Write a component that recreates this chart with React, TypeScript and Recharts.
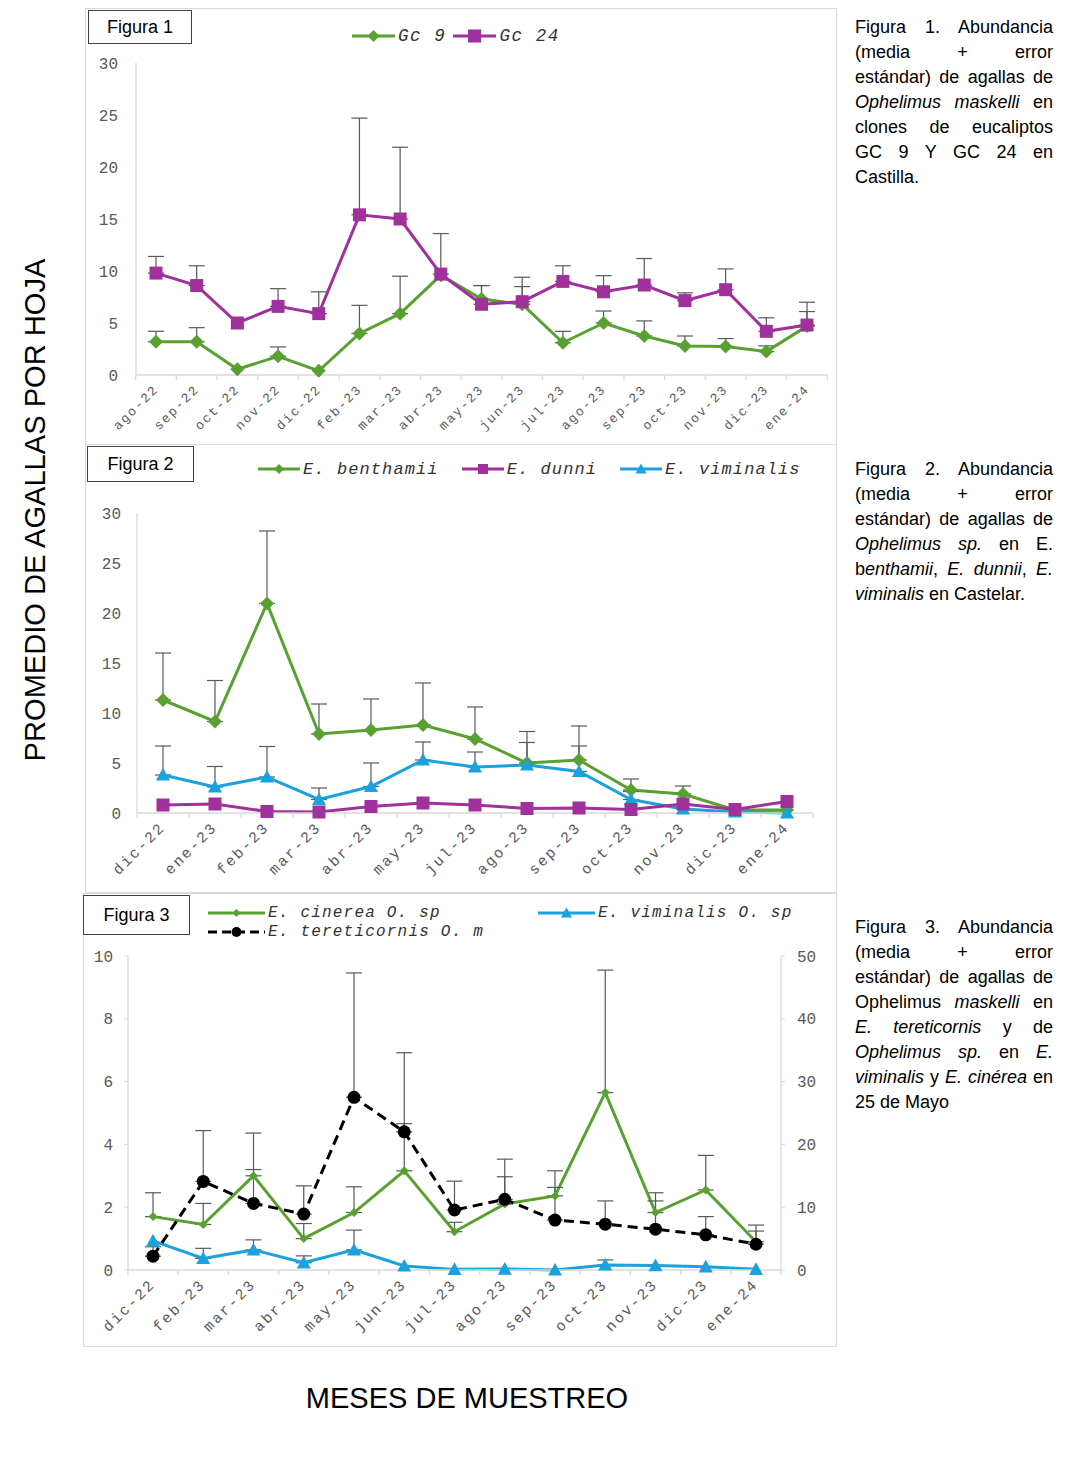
import React from "react";
import { ErrorBar, Legend, Line, LineChart, XAxis, YAxis } from "recharts";

// Figura 1 - Castilla
const fig1Months = ["ago-22", "sep-22", "oct-22", "nov-22", "dic-22", "feb-23", "mar-23", "abr-23", "may-23", "jun-23", "jul-23", "ago-23", "sep-23", "oct-23", "nov-23", "dic-23", "ene-24"];
const gc9Mean = [3.2, 3.2, 0.55, 1.8, 0.4, 4.0, 5.9, 9.6, 7.3, 6.8, 3.1, 5.0, 3.75, 2.8, 2.75, 2.25, 4.7];
const gc9Se = [1.0, 1.35, null, 0.9, null, 2.7, 3.6, null, 1.3, 1.7, 1.1, 1.15, 1.45, 0.95, 0.75, 0.55, 1.4];
const gc24Mean = [9.8, 8.6, 5.0, 6.6, 5.9, 15.4, 15.0, 9.7, 6.8, 7.05, 9.0, 8.0, 8.65, 7.15, 8.2, 4.2, 4.8];
const gc24Se = [1.6, 1.9, null, 1.7, 2.1, 9.3, 6.9, 3.9, 1.8, 2.35, 1.5, 1.55, 2.55, 0.75, 2.0, 1.3, 2.2];
const fig1Ticks = [0, 5, 10, 15, 20, 25, 30];

// Figura 2 - Castelar
const fig2Months = ["dic-22", "ene-23", "feb-23", "mar-23", "abr-23", "may-23", "jul-23", "ago-23", "sep-23", "oct-23", "nov-23", "dic-23", "ene-24"];
const benthamiiMean = [11.3, 9.15, 20.95, 7.9, 8.3, 8.8, 7.4, 5.0, 5.3, 2.3, 1.9, 0.3, 0.3];
const benthamiiSe = [4.7, 4.1, 7.25, 3.0, 3.1, 4.2, 3.2, 3.15, 3.4, 1.1, 0.8, null, null];
const dunniMean = [0.8, 0.9, 0.15, 0.1, 0.65, 1.0, 0.8, 0.45, 0.5, 0.35, 0.9, 0.35, 1.15];
const viminalisMean = [3.8, 2.6, 3.6, 1.35, 2.65, 5.3, 4.6, 4.8, 4.15, 1.35, 0.4, 0.1, 0.0];
const viminalisSe = [2.9, 2.05, 3.05, 1.15, 2.35, 1.8, 1.5, 2.25, 2.55, 0.8, null, null, null];
const fig2Ticks = [0, 5, 10, 15, 20, 25, 30];

// Figura 3 - 25 de Mayo
const fig3Months = ["dic-22", "feb-23", "mar-23", "abr-23", "may-23", "jun-23", "jul-23", "ago-23", "sep-23", "oct-23", "nov-23", "dic-23", "ene-24"];
const cinereaMean = [1.7, 1.45, 3.0, 1.0, 1.83, 3.16, 1.22, 2.1, 2.36, 5.65, 1.83, 2.55, 0.9];
const cinereaSe = [0.76, 0.67, 1.36, 0.48, 0.82, 1.5, 0.3, 0.87, 0.8, 3.9, 0.63, 1.1, 0.53];
const tereticornisMean = [2.2, 14.1, 10.6, 8.9, 27.5, 22.0, 9.55, 11.25, 7.95, 7.3, 6.5, 5.6, 4.1];
const tereticornisSe = [1.5, 8.1, 5.4, 4.5, 19.8, 12.6, 4.6, 6.4, 5.2, 3.7, 4.5, 2.9, 2.1];
const viminalisOspMean = [0.93, 0.37, 0.64, 0.23, 0.64, 0.13, 0.02, 0.03, 0.0, 0.16, 0.14, 0.1, 0.02];
const viminalisOspSe = [null, 0.32, 0.32, 0.22, 0.63, null, null, null, null, 0.16, null, null, null];
const fig3LeftTicks = [0, 2, 4, 6, 8, 10];
const fig3RightTicks = [0, 10, 20, 30, 40, 50];

const GREEN = "#58a130";
const PURPLE = "#a0309b";
const BLUE = "#1ba1db";
const BLACK = "#000000";
const AXIS = "#d9d9d9";
const ERR = "#595959";
const TICK = "#595959";
const MONO = "'Liberation Mono', 'DejaVu Sans Mono', monospace";
const SANS = "'Liberation Sans', Arial, sans-serif";

type Shape = "diamond" | "square" | "triangle" | "circle";
type SeriesStyle = { color: string; shape: Shape; size: number; dash?: string };

const fig1Data = fig1Months.map((month, i) => ({
  month,
  gc9: gc9Mean[i],
  gc9Err: gc9Se[i] == null ? null : [0, gc9Se[i]],
  gc24: gc24Mean[i],
  gc24Err: gc24Se[i] == null ? null : [0, gc24Se[i]],
}));

const fig2Data = fig2Months.map((month, i) => ({
  month,
  benthamii: benthamiiMean[i],
  benthamiiErr: benthamiiSe[i] == null ? null : [0, benthamiiSe[i]],
  dunni: dunniMean[i],
  viminalis: viminalisMean[i],
  viminalisErr: viminalisSe[i] == null ? null : [0, viminalisSe[i]],
}));

const fig3Data = fig3Months.map((month, i) => ({
  month,
  cinerea: cinereaMean[i],
  cinereaErr: [0, cinereaSe[i]],
  tereticornis: tereticornisMean[i],
  tereticornisErr: [0, tereticornisSe[i]],
  vimOsp: viminalisOspMean[i],
  vimOspErr: viminalisOspSe[i] == null ? null : [0, viminalisOspSe[i]],
}));

function marker(shape: Shape, cx: number, cy: number, s: number, color: string) {
  if (shape === "diamond")
    return <path d={`M${cx},${cy - s}L${cx + s},${cy}L${cx},${cy + s}L${cx - s},${cy}Z`} fill={color} />;
  if (shape === "square") return <rect x={cx - s} y={cy - s} width={2 * s} height={2 * s} fill={color} />;
  if (shape === "triangle")
    return <path d={`M${cx},${cy - s}L${cx + s},${cy + s * 0.8}L${cx - s},${cy + s * 0.8}Z`} fill={color} />;
  return <circle cx={cx} cy={cy} r={s} fill={color} />;
}

function makeDot(st: SeriesStyle) {
  return (props: any) => {
    const { cx, cy, index } = props;
    if (cx == null || cy == null) return <g key={`n-${index}`} />;
    return <g key={`m-${index}`}>{marker(st.shape, cx, cy, st.size, st.color)}</g>;
  };
}

function monthTick(step: number, count: number, fontSize: number, spacing: number) {
  return (props: any) => {
    const { x, y, payload, index } = props;
    const tx = x + 3;
    const ty = y + 15;
    return (
      <g>
        <line x1={x - step / 2} x2={x - step / 2} y1={y} y2={y + 5} stroke={AXIS} strokeWidth={1.3} />
        {index === count - 1 && <line x1={x + step / 2} x2={x + step / 2} y1={y} y2={y + 5} stroke={AXIS} strokeWidth={1.3} />}
        <text
          x={tx}
          y={ty}
          transform={`rotate(-45 ${tx} ${ty})`}
          textAnchor="end"
          fontFamily={MONO}
          fontSize={fontSize}
          letterSpacing={spacing}
          fill={TICK}
        >
          {payload.value}
        </text>
      </g>
    );
  };
}

function legendContent(
  styles: Record<string, SeriesStyle>,
  order: string[],
  iconW: number,
  fontSize: number,
  spacing: number,
  gap: number,
  columns?: number
) {
  return (props: any) => {
    const items = [...(props.payload || [])].sort((a: any, b: any) => order.indexOf(a.value) - order.indexOf(b.value));
    return (
      <div
        style={{
          display: columns ? "grid" : "flex",
          gridTemplateColumns: columns ? `repeat(2, ${columns}px)` : undefined,
          rowGap: 1,
          alignItems: "center",
        }}
      >
        {items.map((it: any) => {
          const st = styles[it.value];
          return (
            <div key={it.value} style={{ display: "flex", alignItems: "center", marginRight: gap, height: 18 }}>
              <svg width={iconW} height={16} style={{ display: "block" }}>
                <line x1={0} x2={iconW} y1={8} y2={8} stroke={st.color} strokeWidth={3} strokeDasharray={st.dash} />
                {marker(st.shape, iconW / 2, 8, st.size, st.color)}
              </svg>
              <span
                style={{
                  fontFamily: MONO,
                  fontStyle: "italic",
                  fontSize,
                  letterSpacing: spacing,
                  color: "#333",
                  whiteSpace: "pre",
                  marginLeft: 3,
                }}
              >
                {it.value}
              </span>
            </div>
          );
        })}
      </div>
    );
  };
}

const yTick = { fill: TICK, fontFamily: MONO, fontSize: 16 };

function Panel({ left, top, width, height, children }: any) {
  return (
    <div style={{ position: "absolute", left, top, width, height, boxShadow: `inset 0 0 0 1px ${AXIS}` }}>{children}</div>
  );
}

function FigLabel({ left, top, width, height, text }: any) {
  return (
    <div
      style={{
        position: "absolute",
        left,
        top,
        width,
        height,
        boxSizing: "border-box",
        border: "1px solid #404040",
        background: "#fff",
        fontFamily: SANS,
        fontSize: 18,
        display: "flex",
        alignItems: "center",
        justifyContent: "center",
      }}
    >
      {text}
    </div>
  );
}

function Caption({ top, lines }: { top: number; lines: React.ReactNode[] }) {
  return (
    <div style={{ position: "absolute", left: 855, top, width: 198, fontFamily: SANS, fontSize: 18, lineHeight: "25px", color: "#000" }}>
      {lines.map((l, i) => (
        <div key={i} style={{ textAlign: "justify", textAlignLast: i === lines.length - 1 ? "left" : "justify" }}>
          {l}
        </div>
      ))}
    </div>
  );
}

const fig1Styles: Record<string, SeriesStyle> = {
  "Gc 9": { color: GREEN, shape: "diamond", size: 7 },
  "Gc 24": { color: PURPLE, shape: "square", size: 6.5 },
};
const fig1Legend: Record<string, SeriesStyle> = {
  "Gc 9": { color: GREEN, shape: "diamond", size: 6 },
  "Gc 24": { color: PURPLE, shape: "square", size: 6.5 },
};

const fig2Styles: Record<string, SeriesStyle> = {
  "E. benthamii": { color: GREEN, shape: "diamond", size: 7 },
  "E. dunni": { color: PURPLE, shape: "square", size: 6.5 },
  "E. viminalis": { color: BLUE, shape: "triangle", size: 7 },
};
const fig2Legend: Record<string, SeriesStyle> = {
  "E. benthamii": { color: GREEN, shape: "diamond", size: 5 },
  "E. dunni": { color: PURPLE, shape: "square", size: 5 },
  "E. viminalis": { color: BLUE, shape: "triangle", size: 5.5 },
};

const fig3Styles: Record<string, SeriesStyle> = {
  "E. cinerea O. sp": { color: GREEN, shape: "diamond", size: 4.5 },
  "E. viminalis O. sp": { color: BLUE, shape: "triangle", size: 7 },
  "E. tereticornis O. m": { color: BLACK, shape: "circle", size: 6.5, dash: "10 6" },
};
const fig3Legend: Record<string, SeriesStyle> = {
  "E. cinerea O. sp": { color: GREEN, shape: "diamond", size: 4 },
  "E. viminalis O. sp": { color: BLUE, shape: "triangle", size: 5.5 },
  "E. tereticornis O. m": { color: BLACK, shape: "circle", size: 5, dash: "9 5" },
};

function Figure1() {
  const names = Object.keys(fig1Styles);
  return (
    <LineChart width={752} height={437} data={fig1Data} margin={{ top: 55, right: 10, bottom: 0, left: 0 }}>
      <XAxis
        dataKey="month"
        height={70}
        interval={0}
        padding={{ left: 20, right: 20 }}
        tickSize={0}
        tickMargin={0}
        tickLine={false}
        axisLine={{ stroke: AXIS, strokeWidth: 1.3 }}
        tick={monthTick(691 / 17, fig1Months.length, 13, 1.8)}
      />
      <YAxis
        width={51}
        domain={[0, 30]}
        ticks={fig1Ticks}
        tickLine={false}
        tickSize={0}
        tickMargin={18}
        axisLine={{ stroke: AXIS, strokeWidth: 1.3 }}
        tick={yTick}
      />
      <Legend
        verticalAlign="middle"
        align="center"
        wrapperStyle={{ left: 267, top: 19, width: "auto" }}
        content={legendContent(fig1Legend, names, 43, 17.5, 1.6, 7)}
      />
      <Line dataKey="gc9" name={names[0]} stroke={GREEN} strokeWidth={3} dot={makeDot(fig1Styles[names[0]])} activeDot={false} isAnimationActive={false}>
        <ErrorBar dataKey="gc9Err" direction="y" width={8} stroke={ERR} strokeWidth={1.2} />
      </Line>
      <Line dataKey="gc24" name={names[1]} stroke={PURPLE} strokeWidth={3} dot={makeDot(fig1Styles[names[1]])} activeDot={false} isAnimationActive={false}>
        <ErrorBar dataKey="gc24Err" direction="y" width={8} stroke={ERR} strokeWidth={1.2} />
      </Line>
    </LineChart>
  );
}

function Figure2() {
  const names = Object.keys(fig2Styles);
  return (
    <LineChart width={752} height={449} data={fig2Data} margin={{ top: 69, right: 24, bottom: 0, left: 0 }}>
      <XAxis
        dataKey="month"
        height={80}
        interval={0}
        padding={{ left: 26, right: 26 }}
        tickSize={0}
        tickMargin={0}
        tickLine={false}
        axisLine={{ stroke: AXIS, strokeWidth: 1.3 }}
        tick={monthTick(676 / 13, fig2Months.length, 15, 2.2)}
      />
      <YAxis
        width={52}
        domain={[0, 30]}
        ticks={fig2Ticks}
        tickLine={false}
        tickSize={0}
        tickMargin={16}
        axisLine={{ stroke: AXIS, strokeWidth: 1.3 }}
        tick={yTick}
      />
      <Legend
        verticalAlign="middle"
        align="center"
        wrapperStyle={{ left: 173, top: 16, width: "auto" }}
        content={legendContent(fig2Legend, names, 42, 17, 1.1, 23)}
      />
      <Line dataKey="benthamii" name={names[0]} stroke={GREEN} strokeWidth={3} dot={makeDot(fig2Styles[names[0]])} activeDot={false} isAnimationActive={false}>
        <ErrorBar dataKey="benthamiiErr" direction="y" width={8} stroke={ERR} strokeWidth={1.2} />
      </Line>
      <Line dataKey="viminalis" name={names[2]} stroke={BLUE} strokeWidth={3} dot={makeDot(fig2Styles[names[2]])} activeDot={false} isAnimationActive={false}>
        <ErrorBar dataKey="viminalisErr" direction="y" width={8} stroke={ERR} strokeWidth={1.2} />
      </Line>
      <Line dataKey="dunni" name={names[1]} stroke={PURPLE} strokeWidth={3} dot={makeDot(fig2Styles[names[1]])} activeDot={false} isAnimationActive={false} />
    </LineChart>
  );
}

function Figure3() {
  const names = Object.keys(fig3Styles);
  return (
    <LineChart width={754} height={454} data={fig3Data} margin={{ top: 63, right: 0, bottom: 0, left: 0 }}>
      <XAxis
        dataKey="month"
        height={77}
        interval={0}
        padding={{ left: 25, right: 25 }}
        tickSize={0}
        tickMargin={0}
        tickLine={false}
        axisLine={{ stroke: AXIS, strokeWidth: 1.3 }}
        tick={monthTick(653 / 13, fig3Months.length, 15, 2.2)}
      />
      <YAxis
        yAxisId="left"
        width={45}
        domain={[0, 10]}
        ticks={fig3LeftTicks}
        tickSize={4}
        tickMargin={11}
        tickLine={{ stroke: AXIS }}
        axisLine={{ stroke: AXIS, strokeWidth: 1.3 }}
        tick={yTick}
      />
      <YAxis
        yAxisId="right"
        orientation="right"
        width={56}
        domain={[0, 50]}
        ticks={fig3RightTicks}
        tickSize={4}
        tickMargin={12}
        tickLine={{ stroke: AXIS }}
        axisLine={{ stroke: AXIS, strokeWidth: 1.3 }}
        tick={yTick}
      />
      <Legend
        verticalAlign="middle"
        align="center"
        wrapperStyle={{ left: 125, top: 11, width: "auto" }}
        content={legendContent(fig3Legend, names, 57, 16, 1.2, 0, 330)}
      />
      <Line yAxisId="left" dataKey="cinerea" name={names[0]} stroke={GREEN} strokeWidth={3} dot={makeDot(fig3Styles[names[0]])} activeDot={false} isAnimationActive={false}>
        <ErrorBar dataKey="cinereaErr" direction="y" width={8} stroke={ERR} strokeWidth={1.2} />
      </Line>
      <Line yAxisId="left" dataKey="vimOsp" name={names[1]} stroke={BLUE} strokeWidth={3} dot={makeDot(fig3Styles[names[1]])} activeDot={false} isAnimationActive={false}>
        <ErrorBar dataKey="vimOspErr" direction="y" width={8} stroke={ERR} strokeWidth={1.2} />
      </Line>
      <Line yAxisId="right" dataKey="tereticornis" name={names[2]} stroke={BLACK} strokeWidth={3} strokeDasharray="10 6" dot={makeDot(fig3Styles[names[2]])} activeDot={false} isAnimationActive={false}>
        <ErrorBar dataKey="tereticornisErr" direction="y" width={8} stroke={ERR} strokeWidth={1.2} />
      </Line>
    </LineChart>
  );
}

export default function App() {
  return (
    <div style={{ position: "absolute", left: 0, top: 0, width: 1074, height: 1457, background: "#fff", overflow: "hidden" }}>
      <Panel left={85} top={8} width={752} height={437}>
        <Figure1 />
      </Panel>
      <Panel left={85} top={444} width={752} height={449}>
        <Figure2 />
      </Panel>
      <Panel left={83} top={893} width={754} height={454}>
        <Figure3 />
      </Panel>

      <FigLabel left={88} top={10} width={104} height={34} text="Figura 1" />
      <FigLabel left={87} top={446} width={107} height={36} text="Figura 2" />
      <FigLabel left={83} top={895} width={107} height={40} text="Figura 3" />

      <Caption
        top={14.5}
        lines={[
          "Figura 1. Abundancia",
          "(media + error",
          "estándar) de agallas de",
          <>
            <i>Ophelimus maskelli</i> en
          </>,
          "clones de eucaliptos",
          "GC 9 Y GC 24 en",
          "Castilla.",
        ]}
      />
      <Caption
        top={456.5}
        lines={[
          "Figura 2. Abundancia",
          "(media + error",
          "estándar) de agallas de",
          <>
            <i>Ophelimus sp.</i> en E.
          </>,
          <>
            b<i>enthamii</i>, <i>E. dunnii</i>, <i>E.</i>
          </>,
          <>
            <i>viminalis</i> en Castelar.
          </>,
        ]}
      />
      <Caption
        top={914.5}
        lines={[
          "Figura 3. Abundancia",
          "(media + error",
          "estándar) de agallas de",
          <>
            Ophelimus <i>maskelli</i> en
          </>,
          <>
            <i>E. tereticornis</i> y de
          </>,
          <>
            <i>Ophelimus sp.</i> en <i>E.</i>
          </>,
          <>
            <i>viminalis</i> y <i>E. cinérea</i> en
          </>,
          "25 de Mayo",
        ]}
      />

      <div
        style={{
          position: "absolute",
          left: 35,
          top: 510,
          transform: "translate(-50%, -50%) rotate(-90deg)",
          whiteSpace: "nowrap",
          fontFamily: SANS,
          fontSize: 29.1,
          color: "#000",
        }}
      >
        PROMEDIO DE AGALLAS POR HOJA
      </div>
      <div
        style={{
          position: "absolute",
          left: 467,
          top: 1398,
          transform: "translate(-50%, -50%)",
          whiteSpace: "nowrap",
          fontFamily: SANS,
          fontSize: 29,
          color: "#000",
        }}
      >
        MESES DE MUESTREO
      </div>
    </div>
  );
}
